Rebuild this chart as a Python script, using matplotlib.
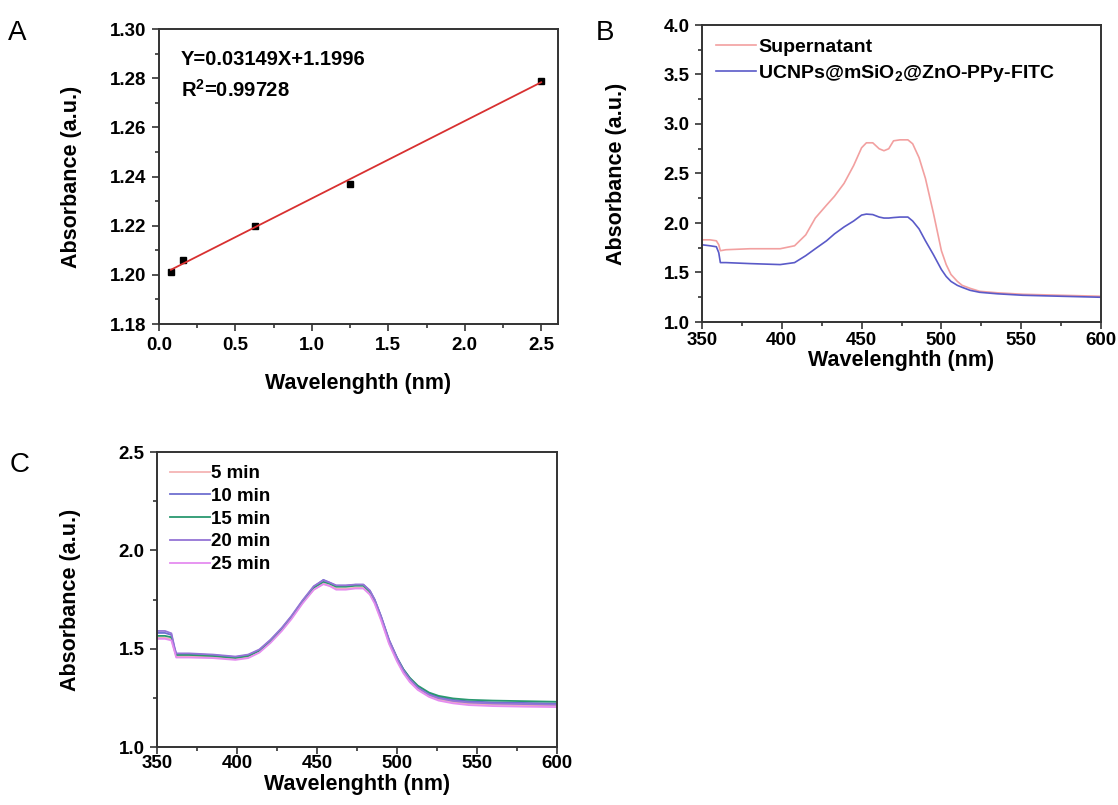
import numpy as np
import matplotlib
matplotlib.use('Agg')
import matplotlib.pyplot as plt
from matplotlib.ticker import MultipleLocator

plt.rcParams['font.family'] = ['Liberation Sans', 'DejaVu Sans']
plt.rcParams['font.weight'] = 'bold'
plt.rcParams['mathtext.fontset'] = 'custom'
plt.rcParams['mathtext.rm'] = 'Liberation Sans:bold'
plt.rcParams['mathtext.it'] = 'Liberation Sans:bold'
plt.rcParams['mathtext.bf'] = 'Liberation Sans:bold'

## panel A: calibration points + linear fit
conc_a = [0.078, 0.156, 0.625, 1.25, 2.5]
abs_a = [1.201, 1.206, 1.220, 1.237, 1.279]
slope_a = 0.03149
icpt_a = 1.1996

## panel B: spectra
wl_b = [350, 355, 359, 360.5, 361.5, 365, 380, 399, 408, 415, 421, 428, 433, 439,
        445, 450, 453, 457, 461, 464, 467, 470, 474, 479, 482, 486, 490, 495, 500,
        503, 506, 510, 513, 518, 524, 535, 551, 575, 600]
sup_b = [1.83, 1.83, 1.82, 1.78, 1.72, 1.73, 1.74, 1.74, 1.77, 1.88, 2.05, 2.18, 2.27, 2.40,
         2.58, 2.76, 2.81, 2.81, 2.75, 2.73, 2.75, 2.83, 2.84, 2.84, 2.80, 2.66, 2.45, 2.10, 1.72,
         1.58, 1.48, 1.41, 1.37, 1.34, 1.31, 1.295, 1.28, 1.27, 1.26]
ucnp_b = [1.78, 1.77, 1.76, 1.70, 1.60, 1.60, 1.59, 1.58, 1.60, 1.67, 1.74, 1.82, 1.89, 1.96,
          2.02, 2.08, 2.09, 2.085, 2.06, 2.05, 2.05, 2.055, 2.06, 2.06, 2.02, 1.94, 1.82, 1.68, 1.53,
          1.46, 1.41, 1.37, 1.35, 1.32, 1.30, 1.285, 1.27, 1.26, 1.25]

## panel C: spectra vs time
wl_c = [350, 355, 359, 361, 362, 370, 385, 399, 407, 414, 421, 428, 434, 441, 448, 454,
        458, 462, 468, 474, 479, 483, 486, 490, 495, 500, 504, 508, 513, 520, 526, 535,
        545, 560, 580, 600]
c5 = [1.555, 1.555, 1.548, 1.49, 1.462, 1.462, 1.458, 1.448, 1.458, 1.485, 1.535, 1.595, 1.655,
      1.735, 1.80, 1.83, 1.82, 1.805, 1.805, 1.81, 1.81, 1.78, 1.735, 1.65, 1.53, 1.44, 1.38,
      1.335, 1.295, 1.26, 1.242, 1.228, 1.220, 1.215, 1.212, 1.210]
c10 = [1.580, 1.580, 1.570, 1.50, 1.472, 1.472, 1.467, 1.457, 1.467, 1.493, 1.543, 1.603, 1.663,
       1.743, 1.815, 1.85, 1.835, 1.82, 1.82, 1.825, 1.825, 1.795, 1.75, 1.665, 1.545, 1.455, 1.395,
       1.35, 1.308, 1.272, 1.254, 1.240, 1.232, 1.227, 1.224, 1.221]
c15 = [1.565, 1.565, 1.558, 1.495, 1.468, 1.468, 1.463, 1.453, 1.463, 1.49, 1.54, 1.60, 1.66,
       1.74, 1.81, 1.84, 1.83, 1.815, 1.815, 1.82, 1.82, 1.79, 1.745, 1.66, 1.54, 1.452, 1.395,
       1.352, 1.312, 1.277, 1.260, 1.247, 1.240, 1.236, 1.233, 1.230]
c20 = [1.590, 1.590, 1.578, 1.505, 1.476, 1.476, 1.470, 1.460, 1.470, 1.496, 1.546, 1.606, 1.666,
       1.746, 1.818, 1.848, 1.836, 1.822, 1.822, 1.826, 1.826, 1.796, 1.75, 1.665, 1.545, 1.452,
       1.39, 1.345, 1.302, 1.266, 1.248, 1.234, 1.226, 1.221, 1.218, 1.215]
c25 = [1.550, 1.550, 1.542, 1.485, 1.455, 1.455, 1.452, 1.443, 1.452, 1.48, 1.53, 1.59, 1.65,
       1.73, 1.80, 1.828, 1.818, 1.80, 1.80, 1.806, 1.806, 1.775, 1.73, 1.645, 1.525, 1.435, 1.375,
       1.33, 1.29, 1.255, 1.236, 1.222, 1.213, 1.208, 1.205, 1.203]
labels_c = ['5 min', '10 min', '15 min', '20 min', '25 min']
colors_c = ['#f4b4b4', '#6f6fd0', '#2a9870', '#9474d6', '#e58cf0']

W, H = 1118, 805
fig = plt.figure(figsize=(W / 100, H / 100), dpi=100)

def px_axes(left, top, right, bottom):
    return fig.add_axes([left / W, 1 - bottom / H, (right - left) / W, (bottom - top) / H])

def style(ax, xpad, ypad, xtpad=2):
    for s in ax.spines.values():
        s.set_linewidth(1.4)
        s.set_color('#333333')
    ax.tick_params(which='both', direction='out', top=False, right=False,
                   width=1.2, color='#333333', labelsize=13.5)
    ax.tick_params(axis='y', pad=4)
    ax.tick_params(axis='x', pad=xtpad)
    ax.tick_params(which='major', length=5)
    ax.tick_params(which='minor', length=3)
    ax.set_ylabel('Absorbance (a.u.)', fontsize=15.5, fontweight='bold', labelpad=ypad)
    ax.set_xlabel('Wavelenghth (nm)', fontsize=15.5, fontweight='bold', labelpad=xpad)

# A
axA = px_axes(159, 29, 558, 324)
axA.plot(conc_a, abs_a, 's', color='black', markersize=5)
xf = np.array([conc_a[0], conc_a[-1]])
axA.plot(xf, slope_a * xf + icpt_a, color='#d83030', lw=1.3)
axA.set_xlim(0, 2.61)
axA.xaxis.set_major_locator(MultipleLocator(0.5))
axA.xaxis.set_minor_locator(MultipleLocator(0.25))
axA.yaxis.set_major_locator(MultipleLocator(0.02))
axA.yaxis.set_minor_locator(MultipleLocator(0.01))
axA.set_yticks(axA.get_yticks())
axA.set_yticklabels([f'{v:.2f}' for v in axA.get_yticks()])
axA.set_ylim(1.18, 1.30)
style(axA, xpad=14, ypad=20, xtpad=4)
axA.text(0.055, 0.895, 'Y=0.03149X+1.1996', transform=axA.transAxes, fontsize=14.5,
         fontweight='bold', va='center')
axA.text(0.055, 0.795, r'R$^2$=0.99728', transform=axA.transAxes, fontsize=14.5,
         fontweight='bold', va='center')

# B
axB = px_axes(702, 25, 1101, 322)
axB.plot(wl_b, sup_b, color='#f2a0a0', lw=1.2, label='Supernatant')
axB.plot(wl_b, ucnp_b, color='#5a5ac8', lw=1.2, label=r'UCNPs@mSiO$_2$@ZnO-PPy-FITC')
axB.set_xlim(350, 600)
axB.set_ylim(1.0, 4.0)
axB.xaxis.set_major_locator(MultipleLocator(50))
axB.xaxis.set_minor_locator(MultipleLocator(25))
axB.yaxis.set_major_locator(MultipleLocator(0.5))
axB.yaxis.set_minor_locator(MultipleLocator(0.25))
style(axB, xpad=1, ypad=26)
axB.legend(loc='upper left', frameon=False, fontsize=14, handlelength=2.1,
           handletextpad=0.1, labelspacing=0.35, borderaxespad=0.3)

# C
axC = px_axes(157, 452, 557, 747)
for y, lab, col in zip([c5, c10, c15, c20, c25], labels_c, colors_c):
    axC.plot(wl_c, y, color=col, lw=1.3, label=lab)
axC.set_xlim(350, 600)
axC.set_ylim(1.0, 2.5)
axC.xaxis.set_major_locator(MultipleLocator(50))
axC.xaxis.set_minor_locator(MultipleLocator(25))
axC.yaxis.set_major_locator(MultipleLocator(0.5))
axC.yaxis.set_minor_locator(MultipleLocator(0.25))
style(axC, xpad=1, ypad=27, xtpad=1)
axC.legend(loc='upper left', frameon=False, fontsize=13.5, handlelength=2.1,
           handletextpad=0.1, labelspacing=0.3, borderaxespad=0.3)

fig.text(8 / W, 1 - 33 / H, 'A', fontsize=20, fontweight='normal', va='center')
fig.text(596 / W, 1 - 33 / H, 'B', fontsize=20, fontweight='normal', va='center')
fig.text(10 / W, 1 - 465 / H, 'C', fontsize=20, fontweight='normal', va='center')

fig.savefig('out.png', dpi=100)
